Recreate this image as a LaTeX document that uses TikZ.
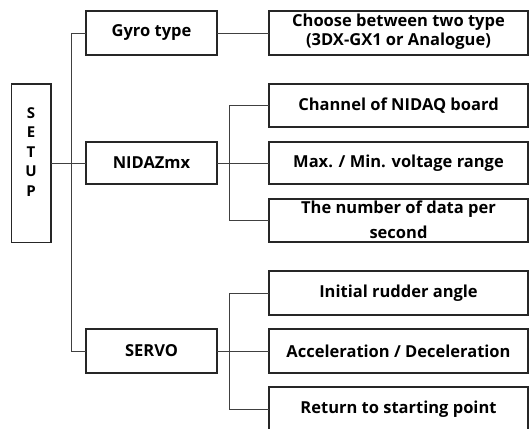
\documentclass[tikz,border=0pt]{standalone}
\usepackage{fontspec}
\setmainfont{Open Sans}
\begin{document}
\begin{tikzpicture}[x=1pt,y=-1pt,
  box/.style={draw=black!85, line width=1.1pt, inner sep=0pt},
  wire/.style={draw=black!75, line width=0.9pt},
  lbl/.style={font=\fontsize{16.5}{19}\selectfont\bfseries, align=center}]
\useasboundingbox (0,0) rectangle (529,428);
% boxes
\draw[box] (11.5,84) rectangle (51,242.5);
\node[lbl, font=\fontsize{15}{19.5}\selectfont\bfseries] (setup) at (31,152) {S\\E\\T\\U\\P};
\coordinate (setupR) at (51,163);

\draw[box] (86,11) rectangle (217,55);
\node[lbl] (gyro) at (151.5,33) {Gyro type};
\draw[box] (86,142) rectangle (217,184);
\node[lbl] (nida) at (151.5,163) {NIDAZmx};
\draw[box] (86,329) rectangle (217,373);
\node[lbl] (servo) at (151.5,351) {SERVO};

\draw[box] (269,11) rectangle (528,55);
\node[lbl] (choose) at (398.5,32) {Choose between two type\\(3DX-GX1 or Analogue)};
\draw[box] (269,84) rectangle (528,127);
\node[lbl] (chan) at (398.5,105.5) {Channel of NIDAQ board};
\draw[box] (269,142) rectangle (528,184);
\node[lbl] (volt) at (398.5,163) {Max. / Min. voltage range};
\draw[box] (269,199) rectangle (528,242);
\node[lbl, font=\fontsize{16.5}{25}\selectfont\bfseries] (rate) at (398.5,220) {The number of data per\\second};
\draw[box] (269,271) rectangle (528,315);
\node[lbl] (rudder) at (398.5,293) {Initial rudder angle};
\draw[box] (269,329) rectangle (528,373);
\node[lbl] (accel) at (398.5,351) {Acceleration / Deceleration};
\draw[box] (269,387) rectangle (528,434);
\node[lbl] (ret) at (398.5,409) {Return to starting point};

% connectors
\coordinate (gyroL) at (86,33);
\coordinate (gyroR) at (217,33);
\coordinate (nidaL) at (86,163);
\coordinate (nidaR) at (217,163);
\coordinate (servoL) at (86,351);
\coordinate (servoR) at (217,351);
\coordinate (chooseL) at (269,33);
\coordinate (chanL) at (269,105.5);
\coordinate (voltL) at (269,163);
\coordinate (rateL) at (269,220.5);
\coordinate (rudderL) at (269,293);
\coordinate (accelL) at (269,351);
\coordinate (retL) at (269,409);

\draw[wire] (gyroL) -- (71,33) -- (71,351) -- (servoL);
\draw[wire] (setupR) -- (nidaL);
\draw[wire] (gyroR) -- (chooseL);
\draw[wire] (nidaR) -- (voltL);
\draw[wire] (chanL) -- (229,105.5) -- (229,220.5) -- (rateL);
\draw[wire] (servoR) -- (accelL);
\draw[wire] (rudderL) -- (229,293) -- (229,409) -- (retL);
\end{tikzpicture}
\end{document}
